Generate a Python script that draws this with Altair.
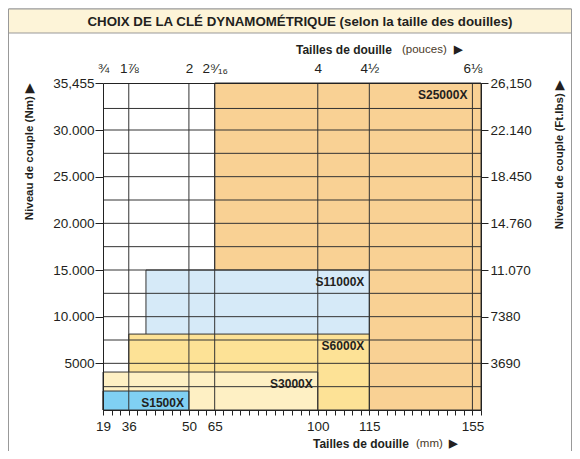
import altair as alt
import pandas as pd
import numpy as np

# ---------------- data ----------------
models = ["S25000X", "S11000X", "S6000X", "S3000X", "S1500X"]
socket_min_mm = [65, 40, 36, 19, 19]
socket_max_mm = [158, 115, 115, 100, 50]
torque_max_nm = [35455, 15000, 8135, 4067, 2034]
fills = ["#F9D194", "#D6EAF8", "#FDE296", "#FEF0C4", "#80D0F3"]

mm_ticks = [19, 36, 50, 65, 100, 115, 155]
inch_labels = ["¾", "1⅞", "2", "2⁹⁄₁₆", "4", "4½", "6⅛"]
nm_ticks = [5000, 10000, 15000, 20000, 25000, 30000, 35455]
nm_labels = ["5000", "10.000", "15.000", "20.000", "25.000", "30.000", "35,455"]
ftlb_labels = ["3690", "7380", "11.070", "14.760", "18.450", "22.140", "26,150"]
grid_nm = [2500, 5000, 7500, 10000, 12500, 15000, 17500, 20000, 22500,
           25000, 27500, 30000, 32500]
grid_mm = [36, 50, 65, 100, 115, 155]

# schematic (non-linear) socket-size axis: positions on a 44-step grid
grid_steps = [0, 3, 10, 13, 25, 31, 43, 44]
grid_mm_knots = [19, 36, 50, 65, 100, 115, 155, 158]

W, H = 378, 327
FONT = "Liberation Sans, Arial, Helvetica, sans-serif"
INK = "#231f20"

rect_df = pd.DataFrame({
    "model": models,
    "x1": socket_min_mm,
    "x2": socket_max_mm,
    "y0": [0] * len(models),
    "y1": torque_max_nm,
})
rect_df["lx"] = np.minimum(rect_df["x2"], 155)
vgrid_df = pd.DataFrame({"mm": grid_mm})
hgrid_df = pd.DataFrame({"nm": grid_nm})
one = pd.DataFrame({"d": [0]})

x_scale = alt.Scale(domain=grid_mm_knots,
                    range=[W * s / 44 for s in grid_steps], nice=False, zero=False)
y_scale = alt.Scale(domain=[0, 30000, 35455], range=[H, 47, 0], nice=False, zero=False)

minor_mm = [round(float(v), 4) for v in np.interp(range(45), grid_steps, grid_mm_knots)]


def ternary(values, labels):
    s = "''"
    for v, l in reversed(list(zip(values, labels))):
        s = f"datum.value == {v} ? '{l}' : ({s})"
    return s


bottom_expr = ternary(mm_ticks, [str(v) for v in mm_ticks])
top_expr = ternary(mm_ticks, inch_labels)
left_expr = ternary(nm_ticks, nm_labels)
right_expr = ternary(nm_ticks, ftlb_labels)

ax_common = dict(grid=False, title=None, zindex=1, domainColor="#222", tickColor="#222",
                 labelColor=INK, labelFont=FONT, labelFontSize=13.5,
                 labelOverlap=False, labelFlush=False, tickWidth=1, domainWidth=1)

rects = alt.Chart(rect_df).mark_rect(stroke="#333", strokeWidth=1).encode(
    x=alt.X("x1:Q", scale=x_scale,
            axis=alt.Axis(orient="bottom", values=minor_mm, labelExpr=bottom_expr,
                          tickSize=5, labelPadding=4, **ax_common)),
    x2="x2:Q",
    y=alt.Y("y0:Q", scale=y_scale,
            axis=alt.Axis(orient="left", values=nm_ticks, labelExpr=left_expr,
                          tickSize=8, labelPadding=1, **ax_common)),
    y2="y1:Q",
    color=alt.Color("model:N", scale=alt.Scale(domain=models, range=fills), legend=None),
)

vgrid = alt.Chart(vgrid_df).mark_rule(color="#333", strokeWidth=1).encode(
    x=alt.X("mm:Q", scale=x_scale,
            axis=alt.Axis(orient="top", values=mm_ticks, labelExpr=top_expr,
                          ticks=False, labelPadding=8, **ax_common)),
)

hgrid = alt.Chart(hgrid_df).mark_rule(color="#333", strokeWidth=1).encode(
    y=alt.Y("nm:Q", scale=y_scale,
            axis=alt.Axis(orient="right", values=nm_ticks, labelExpr=right_expr,
                          tickSize=7, labelPadding=2, **ax_common)),
)

labels = alt.Chart(rect_df).mark_text(
    align="right", baseline="middle", dx=-5, dy=12, font=FONT,
    fontWeight="bold", fontSize=12, color=INK,
).encode(
    x=alt.X("lx:Q", scale=x_scale, axis=None),
    y=alt.Y("y1:Q", scale=y_scale, axis=None),
    text="model:N",
)

# ---------------- decoration ----------------
frame = alt.Chart(one).mark_rect(fillOpacity=0, stroke="#999", strokeWidth=1).encode(
    x=alt.value(-94.5), x2=alt.value(468.5), y=alt.value(-74), y2=alt.value(420))
band = alt.Chart(one).mark_rect(fill="#FDF4D8", stroke="#999", strokeWidth=1).encode(
    x=alt.value(-94.5), x2=alt.value(468.5), y=alt.value(-74), y2=alt.value(-50))
title = alt.Chart(one).mark_text(
    text="CHOIX DE LA CLÉ DYNAMOMÉTRIQUE (selon la taille des douilles)",
    font=FONT, fontWeight="bold", fontSize=13.3, color=INK, align="center", baseline="middle",
).encode(x=alt.value(197), y=alt.value(-61))


def txt(s, x, y, weight="bold", size=11.5, color=INK, angle=0, align="left"):
    return alt.Chart(one).mark_text(
        text=s, font=FONT, fontWeight=weight, fontSize=size, color=color,
        align=align, baseline="middle", angle=angle,
    ).encode(x=alt.value(x), y=alt.value(y))


top_t1 = txt("Tailles de douille", 193, -33, size=12)
top_t2 = txt("(pouces)", 299, -33, weight="normal", color="#4a3a28")
top_t3 = txt("▶", 351, -33, size=11)
bot_t1 = txt("Tailles de douille", 210, 361, size=12)
bot_t2 = txt("(mm)", 313, 361, weight="normal", color="#4a3a28")
bot_t3 = txt("▶", 346, 361, size=11)
left_t = txt("Niveau de couple (Nm)  ▶", -73, 1, angle=270, align="right")
right_t = txt("Niveau de couple (Ft.lbs)  ▶", 457, -2, angle=270, align="right")

chart = alt.layer(
    frame, band, title, rects, vgrid, hgrid, labels,
    top_t1, top_t2, top_t3, bot_t1, bot_t2, bot_t3, left_t, right_t,
).resolve_axis(x="independent", y="independent").properties(
    width=W, height=H,
    padding={"left": 95, "top": 75, "right": 91, "bottom": 41},
    autosize="none", background="white",
).configure_view(stroke=None)

chart.save("out.html", embed_options={"renderer": "svg", "actions": False})
